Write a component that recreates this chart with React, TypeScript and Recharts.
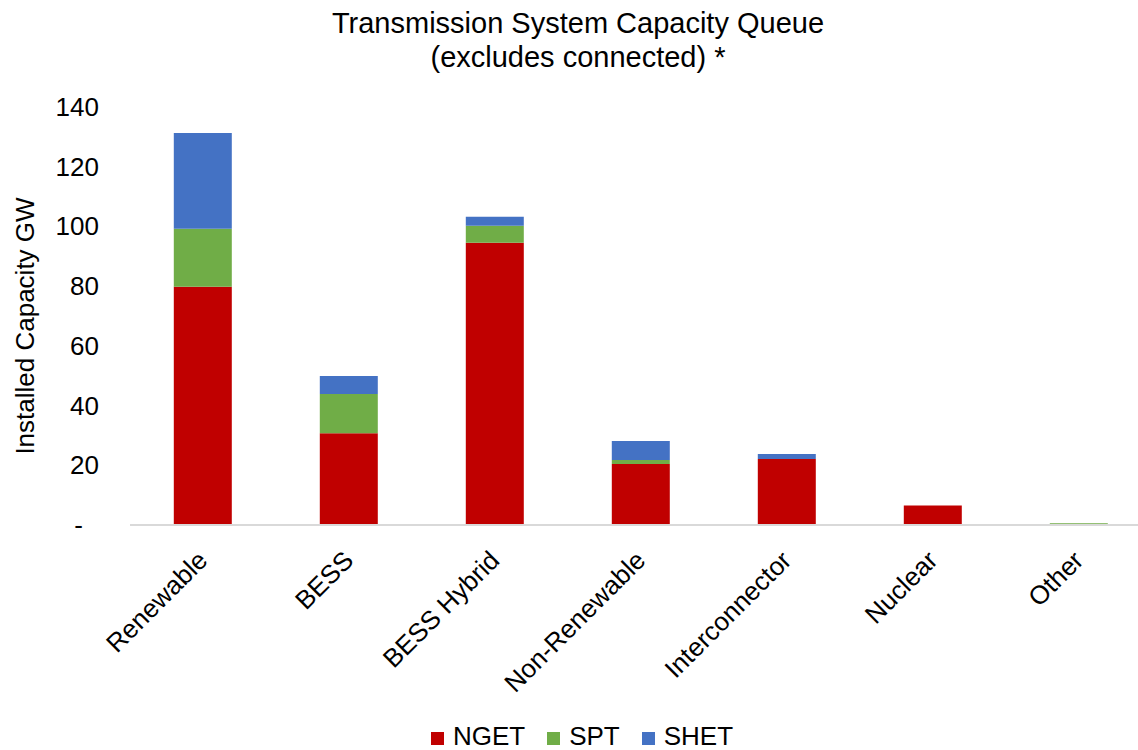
import { BarChart, Bar, XAxis, YAxis, Legend } from 'recharts';

const categories = ['Renewable', 'BESS', 'BESS Hybrid', 'Non-Renewable', 'Interconnector', 'Nuclear', 'Other'];
const ngetValues = [79.8, 30.7, 94.5, 20.4, 22.1, 6.5, 0];
const sptValues = [19.4, 13.2, 5.7, 1.4, 0, 0, 0.6];
const shetValues = [32.1, 6.0, 3.0, 6.3, 1.7, 0, 0];
const yTicks = [0, 20, 40, 60, 80, 100, 120, 140];

const seriesList = [
    { key: 'NGET', color: '#C00000' },
    { key: 'SPT', color: '#70AD47' },
    { key: 'SHET', color: '#4472C4' },
];

const data = categories.map((name, i) => ({
    name,
    NGET: ngetValues[i],
    SPT: sptValues[i],
    SHET: shetValues[i],
}));

const FONT = '"Liberation Sans", Arial, sans-serif';

function XTick({ x, y, payload }: any) {
    const px = x + 6;
    const py = y + 29;
    return (
        <text x={px} y={py} textAnchor="end" fontSize={26} fontFamily={FONT} fill="#000"
            transform={`rotate(-45, ${px}, ${py})`}>
            {payload.value}
        </text>
    );
}

function YTick({ y, payload }: any) {
    const isZero = payload.value === 0;
    return (
        <text x={isZero ? 83 : 99} y={y} dy={9} textAnchor="end" fontSize={26} fontFamily={FONT} fill="#000">
            {isZero ? '-' : payload.value}
        </text>
    );
}

function LegendContent() {
    return (
        <div style={{ display: 'flex', justifyContent: 'center', alignItems: 'center', paddingTop: 13, paddingLeft: 12, fontFamily: FONT, fontSize: 26, lineHeight: '26px', color: '#000' }}>
            {seriesList.map((s) => (
                <div key={s.key} style={{ display: 'flex', alignItems: 'center', margin: '0 11px' }}>
                    <span style={{ display: 'inline-block', width: 13, height: 13, background: s.color, marginRight: 9, marginTop: 4 }} />
                    <span>{s.key}</span>
                </div>
            ))}
        </div>
    );
}

export default function App() {
    return (
        <div style={{ position: 'absolute', left: 0, top: 0, width: 1138, height: 750, overflow: 'hidden', background: '#fff', fontFamily: FONT }}>
            <div style={{ position: 'absolute', left: 0, top: 6, width: 1156, textAlign: 'center', fontSize: 29, lineHeight: '34px', color: '#000' }}>
                <div>Transmission System Capacity Queue</div>
                <div>(excludes connected) *</div>
            </div>
            <div style={{ position: 'absolute', left: 25, top: 326, transform: 'translate(-50%, -50%) rotate(-90deg)', whiteSpace: 'nowrap', fontSize: 26, color: '#000' }}>
                Installed Capacity GW
            </div>
            <BarChart width={1170} height={750} data={data} margin={{ top: 107, right: 18, left: 0, bottom: 0 }} barCategoryGap="30%">
                <XAxis dataKey="name" interval={0} height={185} tick={<XTick />} tickLine={false}
                    axisLine={{ stroke: '#d9d9d9', strokeWidth: 2 }} />
                <YAxis width={130} domain={[0, 140]} ticks={yTicks} tick={<YTick />} axisLine={false} tickLine={false} />
                <Legend verticalAlign="bottom" height={40} content={<LegendContent />} />
                {seriesList.map((s) => (
                    <Bar key={s.key} dataKey={s.key} stackId="a" fill={s.color} isAnimationActive={false} />
                ))}
            </BarChart>
        </div>
    );
}
